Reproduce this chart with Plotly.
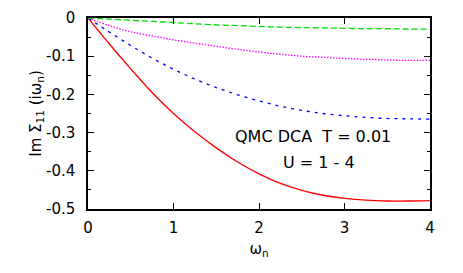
import plotly.graph_objects as go

omega = [0.0, 0.25, 0.5, 0.75, 1.0, 1.25, 1.5, 1.75, 2.0, 2.25, 2.5, 2.75, 3.0, 3.25, 3.5, 3.75, 4.0]
sigma_u4 = [0.0, -0.068, -0.133, -0.195, -0.25, -0.298, -0.34, -0.377, -0.408, -0.433, -0.451, -0.464, -0.472, -0.477, -0.479, -0.479, -0.478]
sigma_u3 = [0.0, -0.037, -0.072, -0.105, -0.134, -0.16, -0.182, -0.201, -0.217, -0.231, -0.242, -0.25, -0.256, -0.26, -0.263, -0.264, -0.265]
sigma_u2 = [0.0, -0.02, -0.036, -0.047, -0.057, -0.066, -0.074, -0.082, -0.089, -0.095, -0.1, -0.103, -0.106, -0.108, -0.11, -0.111, -0.111]
sigma_u1 = [0.0, -0.003, -0.006, -0.009, -0.012, -0.015, -0.018, -0.02, -0.022, -0.024, -0.025, -0.026, -0.027, -0.028, -0.028, -0.029, -0.029]

x_ticks = [0, 1, 2, 3, 4]
y_ticks = [0, -0.1, -0.2, -0.3, -0.4, -0.5]
y_tick_labels = ["0", "-0.1", "-0.2", "-0.3", "-0.4", "-0.5"]

FONT = "DejaVu Sans"

fig = go.Figure()
fig.add_trace(go.Scatter(x=omega, y=sigma_u4, mode="lines", line=dict(color="#ff0000", width=1.3, shape="spline")))
fig.add_trace(go.Scatter(x=omega, y=sigma_u3, mode="lines", line=dict(color="#0000ff", width=1.3, dash="3px,5px", shape="spline")))
fig.add_trace(go.Scatter(x=omega, y=sigma_u2, mode="lines", line=dict(color="#ff00ff", width=1.3, dash="1.5px,1.5px", shape="spline")))
fig.add_trace(go.Scatter(x=omega, y=sigma_u1, mode="lines", line=dict(color="#00dd00", width=1.3, dash="6px,3px", shape="spline")))

fig.add_annotation(x=2.63, y=-0.309, xref="x", yref="y", text="QMC DCA&nbsp; T = 0.01", showarrow=False,
                   font=dict(family=FONT, size=16, color="black"))
fig.add_annotation(x=2.70, y=-0.377, xref="x", yref="y", text="U = 1 - 4", showarrow=False,
                   font=dict(family=FONT, size=16, color="black"))

fig.update_layout(
    width=463, height=273,
    margin=dict(l=80, r=41, t=10, b=72),
    paper_bgcolor="white", plot_bgcolor="white",
    showlegend=False,
    font=dict(family=FONT, size=15, color="black"),
    xaxis=dict(range=[0, 4], tickvals=x_ticks, ticks="inside", ticklen=6, tickwidth=1.2,
               tickcolor="black", showline=True, linecolor="black", linewidth=1.5, mirror="allticks",
               showgrid=False, zeroline=False, ticklabelstandoff=4, automargin=False,
               tickfont=dict(size=15),
               title=dict(text="ω<sub>n</sub>", standoff=8, font=dict(size=15))),
    yaxis=dict(range=[-0.5, 0], tickvals=y_ticks, ticktext=y_tick_labels, ticks="inside", ticklen=6,
               tickwidth=1.2, tickcolor="black", showline=True, linecolor="black", linewidth=1.5,
               mirror="allticks", showgrid=False, zeroline=False, ticklabelstandoff=8, automargin=False,
               tickfont=dict(size=15),
               minor=dict(tickvals=[-0.05, -0.15, -0.25, -0.35, -0.45], ticks="inside", ticklen=3,
                          tickwidth=1.2, tickcolor="black", showgrid=False),
               title=dict(text="Im Σ<sub>11</sub> (iω<sub>n</sub>)", standoff=0, font=dict(size=15))),
)

fig.write_html("out.html")
